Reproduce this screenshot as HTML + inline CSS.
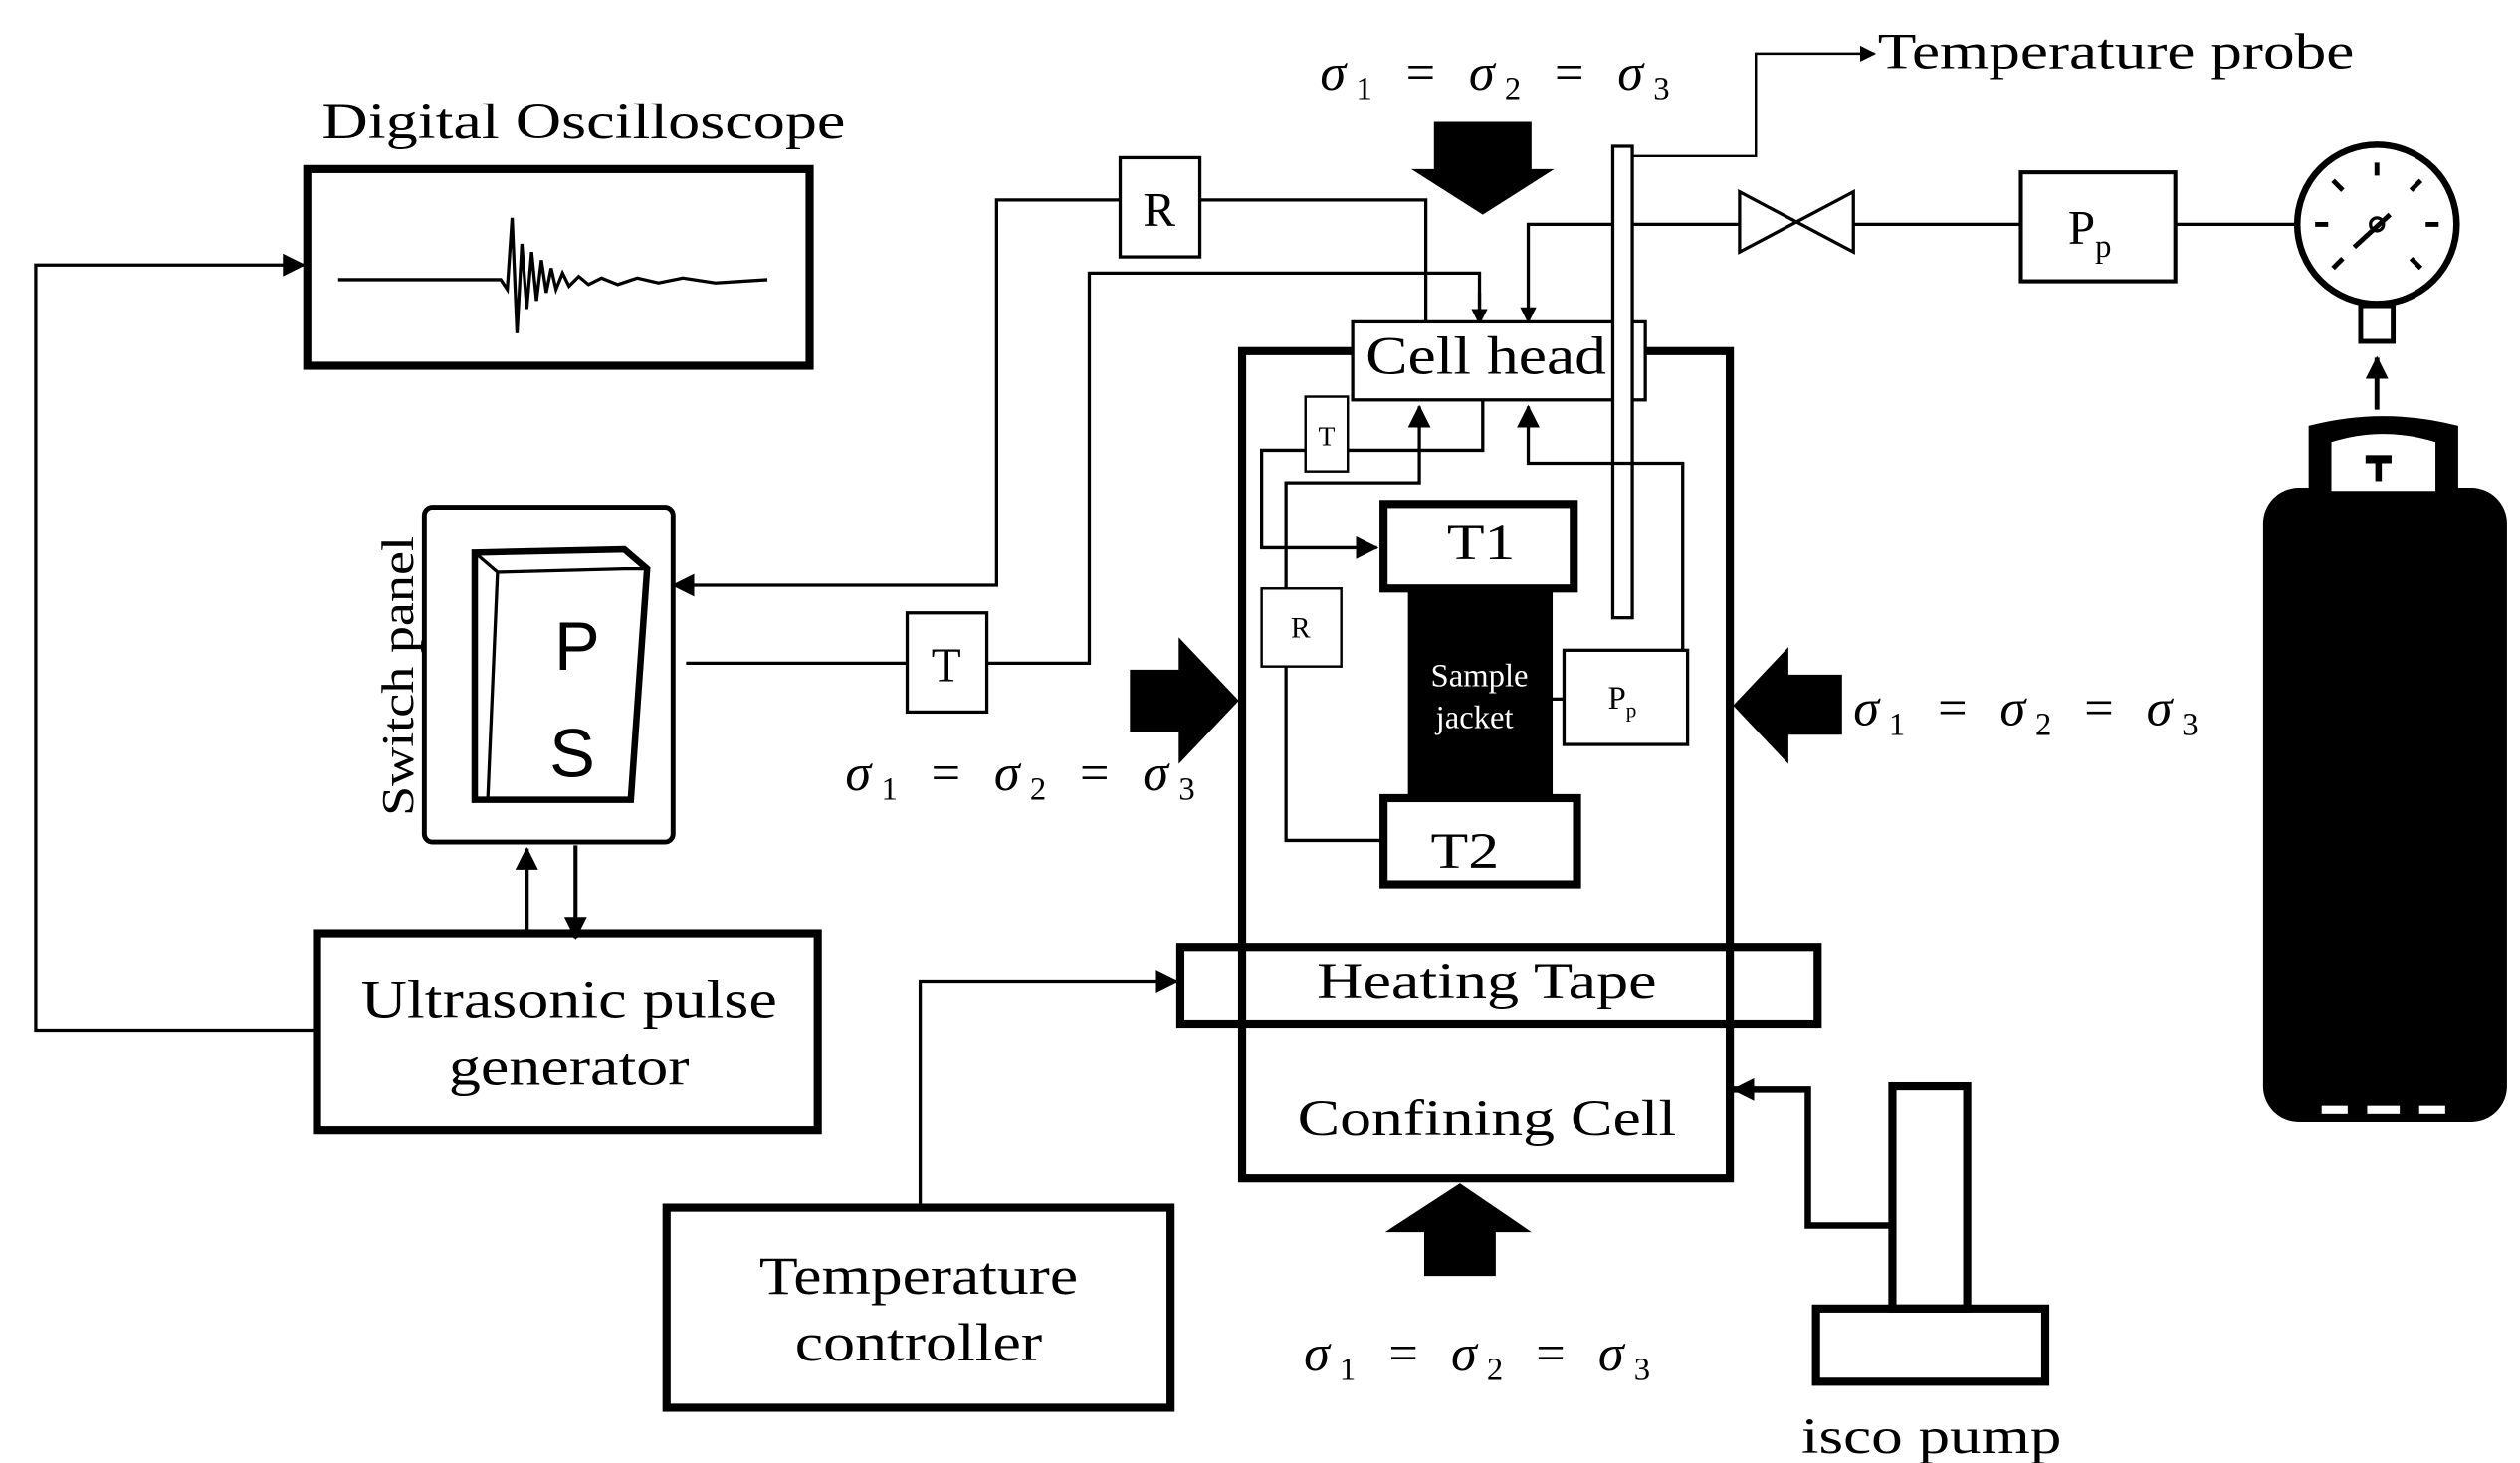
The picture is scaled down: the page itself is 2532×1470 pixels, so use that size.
<!DOCTYPE html>
<html><head><meta charset="utf-8"><style>
html,body{margin:0;padding:0;background:#fff}
svg{display:block}
text{font-family:"Liberation Serif",serif;fill:#000}
.s{font-style:italic}
</style></head><body>
<svg width="2532" height="1470" viewBox="0 0 1550 900" preserveAspectRatio="none" xmlns="http://www.w3.org/2000/svg">
<defs>
<marker id="a" markerWidth="10" markerHeight="10" refX="9" refY="5" orient="auto" markerUnits="userSpaceOnUse"><path d="M0,0 L10,5 L0,10 z" fill="#000"/></marker>
<marker id="b" markerWidth="14" markerHeight="14" refX="13" refY="7" orient="auto" markerUnits="userSpaceOnUse"><path d="M0,0 L14,7 L0,14 z" fill="#000"/></marker>
</defs>
<g fill="none" stroke="#000">
<rect x="189" y="104" width="309" height="121" stroke-width="5"/>
<path d="M208,172 L308,172 L312,178 L315,134 L318,205 L321,150 L324,190 L327,155 L330,185 L333,160 L336,180 L339,165 L342,178 L346,168 L350,176 L356,170 L362,175 L370,171 L380,175 L392,171 L405,174 L420,171 L440,174 L472,172" stroke-width="2"/>
<path d="M193,634 L22,634 L22,163 L187,163" stroke-width="2" marker-end="url(#b)"/>
<rect x="261" y="312" width="153" height="206" rx="5" stroke-width="3"/>
<path d="M292,340 L384,338 L398,350 L388,492 L292,492 Z" stroke-width="4"/>
<path d="M292,340 L306,352 L384,350 L398,350 M306,352 L300,492" stroke-width="2"/>
<path d="M324,573 L324,522" stroke-width="2.5" marker-end="url(#b)"/>
<path d="M354,520 L354,577" stroke-width="2.5" marker-end="url(#b)"/>
<rect x="195" y="574" width="308" height="121" stroke-width="5"/>
<path d="M689,123 L613,123 L613,360 L414,360" stroke-width="2" marker-end="url(#b)"/>
<path d="M738,123 L877,123 L877,198" stroke-width="2"/>
<rect x="689" y="97" width="49" height="61" stroke-width="2"/>
<path d="M422,408 L558,408 M607,408 L670,408 L670,168 L910,168 L910,198" stroke-width="2"/>
<path d="M910,180 L910,199" stroke-width="2" marker-end="url(#a)"/>
<rect x="558" y="377" width="49" height="61" stroke-width="2"/>
<rect x="764" y="216" width="300" height="509" stroke-width="5"/>
<rect x="832" y="198" width="180" height="48" stroke-width="2" fill="#fff"/>
<path d="M992,138 L940,138 L940,198" stroke-width="2" marker-end="url(#a)"/>
<rect x="992" y="90" width="12" height="290" stroke-width="2" fill="#fff"/>
<path d="M1004,96 L1080,96 L1080,33 L1153,33" stroke-width="1.5" marker-end="url(#a)"/>
<path d="M1004,138 L1070,138 M1140,138 L1243,138 M1338,138 L1412,138" stroke-width="2"/>
<path d="M1070,118 L1140,155 L1140,118 L1070,155 Z" stroke-width="2"/>
<rect x="1243" y="106" width="95" height="67" stroke-width="2.5"/>
<path d="M912,246 L912,277 L776,277 L776,337 L847,337" stroke-width="2" marker-end="url(#b)"/>
<path d="M849,517 L791,517 L791,297 L873,297 L873,250" stroke-width="2" marker-end="url(#b)"/>
<path d="M1035,400 L1035,285 L940,285 L940,250" stroke-width="2" marker-end="url(#b)"/>
<path d="M953,430 L962,430" stroke-width="2"/>
<rect x="803" y="244" width="26" height="46" stroke-width="1.5" fill="#fff"/>
<rect x="776" y="362" width="49" height="48" stroke-width="1.5" fill="#fff"/>
<rect x="962" y="400" width="76" height="58" stroke-width="2" fill="#fff"/>
<rect x="866" y="360" width="89" height="132" fill="#000" stroke="none"/>
<rect x="851" y="310" width="117" height="52" stroke-width="5" fill="#fff"/>
<rect x="851" y="491" width="119" height="53" stroke-width="5" fill="#fff"/>
<rect x="726" y="583" width="392" height="47" stroke-width="5"/>
<path d="M566,743 L566,604 L724,604" stroke-width="2" marker-end="url(#b)"/>
<rect x="410" y="743" width="310" height="123" stroke-width="5"/>
<path d="M1164,754 L1112,754 L1112,670 L1066,670" stroke-width="4" marker-end="url(#b)"/>
<rect x="1164" y="668" width="46" height="137" stroke-width="5"/>
<rect x="1117" y="805" width="141" height="45" stroke-width="5"/>
<circle cx="1462" cy="138" r="49" stroke-width="4"/>
<path d="M1424,138 L1432,138 M1500,138 L1492,138 M1462,100 L1462,108 M1435,111 L1441,117 M1489,111 L1483,117 M1435,165 L1441,159 M1489,165 L1483,159" stroke-width="3"/>
<path d="M1448,152 L1470,132" stroke-width="3"/>
<circle cx="1462" cy="138" r="4" stroke-width="2"/>
<path d="M1462,252 L1462,220" stroke-width="3" marker-end="url(#b)"/>
<rect x="1452" y="188" width="20" height="22" stroke-width="3"/>
</g>
<g fill="#000">
<path d="M882,75 L942,75 L942,104 L956,104 L912,132 L868,104 L882,104 Z"/>
<path d="M695,412 L725,412 L725,392 L762,431 L725,470 L725,450 L695,450 Z"/>
<path d="M1133,415 L1100,415 L1100,398 L1066,434 L1100,470 L1100,452 L1133,452 Z"/>
<path d="M876,785 L920,785 L920,758 L942,758 L898,728 L852,758 L876,758 Z"/>
<rect x="1392" y="300" width="150" height="390" rx="22"/>
<path d="M1420,305 L1420,262 Q1466,250 1512,262 L1512,305 Z"/>
<path d="M1434,302 L1434,272 Q1466,262 1498,272 L1498,302 Z" fill="#fff"/>
<rect x="1455" y="280" width="16" height="5"/>
<rect x="1461" y="284" width="4" height="12"/>
<rect x="1428" y="680" width="16" height="5" fill="#fff"/>
<rect x="1456" y="680" width="20" height="5" fill="#fff"/>
<rect x="1488" y="680" width="16" height="5" fill="#fff"/>
</g>
<g font-size="31">
<text x="198" y="85" textLength="322" lengthAdjust="spacingAndGlyphs">Digital Oscilloscope</text>
<text x="1155" y="42" textLength="293" lengthAdjust="spacingAndGlyphs">Temperature probe</text>
<text transform="translate(254,330) rotate(-90)" x="-172" y="0" font-size="28" textLength="172" lengthAdjust="spacingAndGlyphs">Switch panel</text>
<text x="222" y="626" font-size="33" textLength="256" lengthAdjust="spacingAndGlyphs">Ultrasonic pulse</text>
<text x="276" y="667" font-size="33" textLength="148" lengthAdjust="spacingAndGlyphs">generator</text>
<text x="467" y="796" font-size="33" textLength="196" lengthAdjust="spacingAndGlyphs">Temperature</text>
<text x="489" y="837" font-size="33" textLength="152" lengthAdjust="spacingAndGlyphs">controller</text>
<text x="840" y="230" font-size="33" textLength="148" lengthAdjust="spacingAndGlyphs">Cell head</text>
<text x="810" y="614" textLength="209" lengthAdjust="spacingAndGlyphs">Heating Tape</text>
<text x="798" y="698" textLength="233" lengthAdjust="spacingAndGlyphs">Confining Cell</text>
<text x="1108" y="894" textLength="160" lengthAdjust="spacingAndGlyphs">isco pump</text>
<text x="890" y="344" font-size="31" textLength="42" lengthAdjust="spacingAndGlyphs">T1</text>
<text x="880" y="534" font-size="31" textLength="42" lengthAdjust="spacingAndGlyphs">T2</text>
</g>
<text x="355" y="412" font-size="42" text-anchor="middle" style="font-family:'Liberation Sans',sans-serif">P</text>
<text x="352" y="478" font-size="42" text-anchor="middle" style="font-family:'Liberation Sans',sans-serif">S</text>
<text x="713" y="139" font-size="30" text-anchor="middle">R</text>
<text x="582" y="419" font-size="30" text-anchor="middle">T</text>
<text x="816" y="274" font-size="17" text-anchor="middle">T</text>
<text x="800" y="392" font-size="18" text-anchor="middle">R</text>
<text x="910" y="422" font-size="20" text-anchor="middle" style="fill:#fff">Sample</text>
<text x="907" y="448" font-size="20" text-anchor="middle" style="fill:#fff">jacket</text>
<text x="989" y="436" font-size="20">P<tspan font-size="13" dy="5">p</tspan></text>
<text x="1272" y="150" font-size="30">P<tspan font-size="20" dy="8">p</tspan></text>
<g font-size="32">
<text x="812" y="55" class="s" textLength="215" lengthAdjust="spacing">σ<tspan font-size="20" dy="6" font-style="normal">1</tspan><tspan dy="-6" font-style="normal"> = </tspan>σ<tspan font-size="20" dy="6" font-style="normal">2</tspan><tspan dy="-6" font-style="normal"> = </tspan>σ<tspan font-size="20" dy="6" font-style="normal">3</tspan></text>
<text x="520" y="486" class="s" textLength="215" lengthAdjust="spacing">σ<tspan font-size="20" dy="6" font-style="normal">1</tspan><tspan dy="-6" font-style="normal"> = </tspan>σ<tspan font-size="20" dy="6" font-style="normal">2</tspan><tspan dy="-6" font-style="normal"> = </tspan>σ<tspan font-size="20" dy="6" font-style="normal">3</tspan></text>
<text x="1140" y="446" class="s" textLength="212" lengthAdjust="spacing">σ<tspan font-size="20" dy="6" font-style="normal">1</tspan><tspan dy="-6" font-style="normal"> = </tspan>σ<tspan font-size="20" dy="6" font-style="normal">2</tspan><tspan dy="-6" font-style="normal"> = </tspan>σ<tspan font-size="20" dy="6" font-style="normal">3</tspan></text>
<text x="802" y="843" class="s" textLength="213" lengthAdjust="spacing">σ<tspan font-size="20" dy="6" font-style="normal">1</tspan><tspan dy="-6" font-style="normal"> = </tspan>σ<tspan font-size="20" dy="6" font-style="normal">2</tspan><tspan dy="-6" font-style="normal"> = </tspan>σ<tspan font-size="20" dy="6" font-style="normal">3</tspan></text>
</g>
</svg>
</body></html>
